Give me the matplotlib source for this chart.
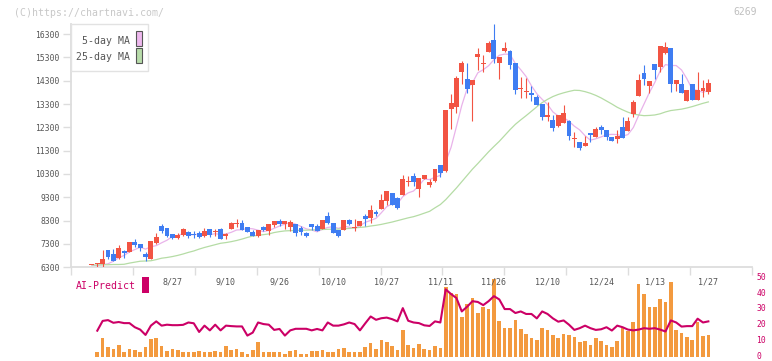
import matplotlib
matplotlib.use('Agg')
import matplotlib.pyplot as plt
import matplotlib.transforms as mtransforms
from matplotlib.patches import Rectangle

plt.rcParams['font.family'] = ['DejaVu Sans Mono']

# daily candles (open, high, low, close)
opens = [6380, 6430, 6440, 7040, 6870, 6690, 7010, 6970, 7380, 7300,
         6870, 6660, 7350, 8070, 7980, 7730, 7540, 7680, 7810, 7720,
         7770, 7640, 7960, 7830, 7960, 7650, 7950, 8160, 8200, 8010,
         7810, 7650, 8030, 7870, 8110, 8280, 8170, 8040, 8160, 7980,
         7770, 8140, 8070, 7940, 8500, 8200, 7900, 7900, 8330, 7990,
         8080, 8500, 8400, 8670, 8800, 9160, 9480, 9270, 9400, 9960,
         10210, 9660, 10100, 9810, 10000, 10700, 10440, 13100, 13160, 14680,
         14370, 14130, 15330, 15020, 15540, 16030, 15070, 15560, 15580, 15060,
         13930, 13800, 13760, 13600, 13300, 12740, 12630, 12340, 12480, 12580,
         11780, 11670, 11500, 12060, 11880, 12310, 12180, 11880, 11810, 12310,
         12150, 12880, 13660, 14630, 14080, 15010, 14900, 15470, 15700, 14170,
         14150, 13430, 14160, 13480, 13870, 13830]
highs = [6390, 6500, 7040, 7040, 7070, 7260, 7040, 7390, 7510, 7300,
         6940, 7430, 7780, 8160, 7990, 7730, 7760, 7980, 7870, 7860,
         7870, 7980, 7960, 7930, 7980, 7780, 8250, 8370, 8330, 8020,
         7890, 7900, 8070, 8150, 8290, 8370, 8290, 8310, 8170, 8070,
         7830, 8140, 8160, 8340, 8670, 8200, 7910, 8330, 8380, 8370,
         8280, 8570, 8960, 8770, 9440, 9570, 9480, 9310, 10260, 10200,
         10340, 10140, 10270, 10090, 10510, 10700, 13040, 13730, 14480, 15160,
         15040, 14340, 15700, 15390, 15990, 16740, 15310, 15960, 15610, 15060,
         14460, 14410, 14070, 13670, 13300, 13370, 12810, 12850, 13240, 12600,
         12090, 11680, 11930, 12060, 12330, 12390, 12190, 11880, 12180, 12730,
         12730, 13470, 14600, 14970, 14290, 15010, 15790, 15940, 15700, 14330,
         14570, 13900, 14160, 14670, 14330, 14390]
lows = [6380, 6330, 6330, 6650, 6570, 6650, 6710, 6960, 7180, 7000,
        6570, 6660, 7290, 7780, 7600, 7530, 7500, 7640, 7540, 7540,
        7540, 7600, 7590, 7650, 7530, 7530, 7950, 8030, 7880, 7820,
        7640, 7620, 7840, 7700, 8030, 8080, 7950, 7870, 7650, 7700,
        7610, 7910, 7860, 7930, 8160, 7770, 7610, 7890, 8130, 7870,
        8070, 8080, 8190, 8510, 8800, 8980, 8980, 8820, 9400, 9770,
        9780, 9300, 10090, 9760, 9960, 10160, 10400, 12240, 12930, 14170,
        13780, 12580, 14770, 14680, 15530, 15040, 14380, 15550, 14810, 13730,
        13540, 13570, 13430, 13260, 12630, 12560, 12150, 12330, 12470, 11770,
        11440, 11340, 11490, 11680, 11870, 12010, 11760, 11720, 11640, 11840,
        12140, 12760, 13650, 14110, 13780, 14370, 14680, 15460, 13830, 13840,
        13760, 13420, 13460, 13470, 13610, 13730]
closes = [6390, 6450, 6650, 6750, 6580, 7140, 6925, 7380, 7260, 7110,
          6740, 7430, 7600, 7860, 7650, 7540, 7670, 7960, 7650, 7700,
          7600, 7870, 7680, 7850, 7530, 7740, 8200, 8180, 7890, 7830,
          7650, 7900, 7890, 8140, 8280, 8160, 8280, 8240, 7780, 7810,
          7650, 8010, 7870, 8330, 8210, 7780, 7650, 8330, 8140, 8010,
          8280, 8370, 8760, 8600, 9180, 9570, 8980, 8830, 10080, 10010,
          9940, 10130, 10260, 9960, 10510, 10330, 13040, 13340, 14410, 15060,
          13960, 14330, 15460, 15060, 15910, 15240, 15300, 15700, 14980, 13920,
          13950, 13870, 13700, 13270, 12730, 12830, 12270, 12840, 12920, 11940,
          11800, 11430, 11610, 11980, 12230, 12200, 11870, 11730, 11930, 11850,
          12580, 13380, 14330, 14380, 14290, 14740, 15790, 15740, 14170, 14330,
          13780, 13900, 13470, 13900, 13970, 14190]

ma5 = [6360, 6380, 6410, 6450, 6560, 6710, 6810, 6960, 7060, 7160,
       7080, 7180, 7230, 7350, 7460, 7620, 7660, 7740, 7690, 7700,
       7720, 7760, 7700, 7740, 7710, 7730, 7800, 7900, 7910, 7970,
       7950, 7890, 7830, 7880, 7970, 8070, 8150, 8220, 8150, 8050,
       7950, 7900, 7820, 7930, 8010, 8040, 7970, 8060, 8020, 7980,
       8080, 8230, 8310, 8400, 8640, 8900, 9020, 9030, 9330, 9490,
       9570, 9800, 10080, 10060, 10160, 10240, 10820, 11440, 12330, 13240,
       13960, 14220, 14640, 14770, 14940, 15200, 15390, 15440, 15430, 15030,
       14770, 14480, 14080, 13740, 13500, 13280, 12960, 12790, 12720, 12560,
       12350, 12190, 11940, 11750, 11810, 11890, 11980, 12000, 11990, 11920,
       11990, 12290, 12810, 13300, 13790, 14220, 14710, 14990, 14950, 14950,
       14760, 14380, 13930, 13880, 13800, 13890]
ma25 = [6400, 6400, 6410, 6410, 6420, 6420, 6430, 6480, 6520, 6560,
        6570, 6580, 6630, 6690, 6720, 6760, 6810, 6870, 6940, 7000,
        7080, 7150, 7210, 7270, 7330, 7360, 7400, 7450, 7510, 7580,
        7640, 7670, 7700, 7730, 7790, 7830, 7860, 7870, 7880, 7890,
        7890, 7900, 7910, 7920, 7930, 7935, 7940, 7950, 7965, 7990,
        8010, 8030, 8070, 8100, 8140, 8190, 8240, 8300, 8360, 8420,
        8470, 8540, 8620, 8700, 8850, 8990, 9200, 9450, 9700, 9970,
        10240, 10510, 10750, 11000, 11250, 11480, 11700, 11950, 12200, 12430,
        12620, 12800, 12990, 13180, 13360, 13500, 13620, 13710, 13780, 13840,
        13890, 13880, 13830, 13760, 13670, 13560, 13430, 13300, 13160, 13050,
        12950, 12870, 12830, 12800, 12810, 12830, 12880, 12960, 13020, 13050,
        13080, 13130, 13190, 13260, 13330, 13390]

# lower panel
volume = [0, 3.6, 12.4, 6.7, 5.5, 8.0, 3.6, 5.5, 4.8, 3.0,
          6.7, 11.8, 12.4, 7.4, 4.2, 5.5, 4.8, 3.6, 3.6, 3.6,
          4.2, 3.6, 3.6, 4.2, 3.0, 7.4, 4.8, 5.5, 3.6, 2.3,
          4.5, 9.9, 3.0, 3.0, 3.0, 3.0, 2.3, 4.2, 4.8, 2.3,
          2.3, 4.2, 4.2, 4.8, 3.6, 3.6, 5.5, 6.1, 3.0, 3.6,
          3.0, 6.7, 9.2, 5.5, 11.1, 9.9, 7.4, 4.8, 17.4, 8.0,
          6.1, 8.6, 5.5, 4.8, 7.4, 6.1, 44.5, 40.7, 40.1, 25.6,
          33.8, 37.6, 28.0, 32.1, 30.7, 49.6, 23.1, 18.7, 18.7, 23.7,
          18.0, 14.9, 12.4, 11.1, 18.7, 17.4, 14.3, 12.4, 14.9, 14.3,
          13.0, 9.9, 10.5, 8.0, 12.4, 10.5, 8.0, 6.7, 10.5, 18.7,
          16.8, 22.5, 46.4, 40.1, 31.9, 31.9, 37.0, 35.1, 47.7, 17.4,
          15.5, 13.0, 11.1, 22.5, 13.6, 14.3]
ai_predict = [16.8, 23.0, 23.5, 21.8, 22.3, 21.6, 21.6, 19.0, 17.5,
              14.1, 20.0, 22.7, 20.0, 20.6, 20.3, 20.3, 20.5, 22.0, 21.5,
              16.0, 20.0, 17.0, 20.6, 17.0, 20.0, 19.7, 19.5, 19.5, 13.7,
              15.6, 22.0, 21.0, 20.6, 17.3, 17.9, 13.7, 17.0, 18.0, 18.0,
              18.0, 17.0, 17.9, 17.0, 22.0, 20.0, 20.0, 20.8, 22.0, 21.0,
              17.0, 21.5, 25.8, 23.7, 24.7, 25.1, 24.1, 22.7, 31.1, 23.1,
              22.0, 21.6, 20.2, 19.8, 22.7, 22.0, 43.0, 40.0, 37.5, 29.0,
              32.0, 35.5, 35.0, 33.0, 35.5, 38.7, 36.6, 30.5, 30.5, 28.0,
              29.0, 27.4, 27.4, 24.6, 29.0, 27.4, 24.6, 22.5, 23.3, 20.6,
              17.3, 18.4, 20.0, 18.4, 17.3, 17.7, 19.0, 16.9, 20.0, 19.0,
              17.5, 17.0, 17.5, 18.4, 18.0, 18.4, 17.5, 16.3, 23.3, 22.0,
              19.4, 19.7, 19.7, 24.4, 22.0, 22.7]

date_labels = ['8/27', '9/10', '9/26', '10/10', '10/27', '11/11',
               '11/26', '12/10', '12/24', '1/13', '1/27']
date_idx = [15, 25, 35, 45, 55, 65, 75, 85, 95, 105, 115]

UP = '#f25443'
DOWN = '#3f7df2'
GRID = '#dddddd'
CRIMSON = '#cc0066'

W, H = 772, 361


def fx(px):
    return px / W


def fy(py):
    return 1 - py / H


n = len(closes)
idx = list(range(n))
xlim = (-3.96, 123.2)

fig = plt.figure(figsize=(7.72, 3.61), dpi=100)
ax2 = fig.add_axes([fx(70.7), fy(357.2), (752.3 - 70.7) / W, (357.2 - 278.3) / H])
ax = fig.add_axes([fx(70.7), fy(267.3), (752.3 - 70.7) / W, (267.3 - 24) / H])
ax2.patch.set_visible(False)
ax.patch.set_visible(False)

# candles
colors = [UP if c >= o else DOWN for o, c in zip(opens, closes)]
bottoms = [min(o, c) for o, c in zip(opens, closes)]
heights = [max(abs(c - o), 45) for o, c in zip(opens, closes)]
ax.vlines(idx, lows, highs, colors=colors, linewidth=0.8, zorder=3)
ax.bar(idx, heights, bottom=bottoms, width=0.92, color=colors, linewidth=0, zorder=4)
ax.plot(idx, ma5, color='#e9b3ea', linewidth=0.9, zorder=2)
ax.plot(idx, ma25, color='#b5dca5', linewidth=0.9, zorder=2)

ax.set_xlim(*xlim)
ax.set_ylim(6300, 16730)
ax.set_yticks(range(6300, 16301, 1000))
ax.set_xticks([xlim[0] + k * (xlim[1] - xlim[0]) / 11 for k in range(12)])
ax.set_xticklabels([])
for s in ['top', 'right']:
    ax.spines[s].set_visible(False)
for s in ['left', 'bottom']:
    ax.spines[s].set_color(GRID)
    ax.spines[s].set_linewidth(1.3)
ax.tick_params(axis='both', colors=GRID, length=6, width=1.0)
ax.tick_params(axis='y', labelcolor='#555555', labelsize=5.8, pad=2)

for lab, i in zip(date_labels, date_idx):
    ax.text(i, -0.06, lab, transform=ax.get_xaxis_transform(), ha='center',
            va='center', fontsize=6, color='#555555', clip_on=False)

# legend box
fig.patches.append(Rectangle((fx(70.7), fy(71)), 77.6 / W, 46.7 / H,
                             transform=fig.transFigure, facecolor='white',
                             edgecolor='#e2e2e2', linewidth=1.0, zorder=5))
fig.patches.append(Rectangle((fx(136.3), fy(46.3)), 6 / W, 15.3 / H,
                             transform=fig.transFigure, facecolor='#eeb8ee',
                             edgecolor='#555555', linewidth=0.8, zorder=6))
fig.patches.append(Rectangle((fx(136.3), fy(63)), 6 / W, 14.7 / H,
                             transform=fig.transFigure, facecolor='#b8dcaa',
                             edgecolor='#555555', linewidth=0.8, zorder=6))
fig.text(fx(129.5), fy(40.7), '5-day MA', ha='right', va='center',
         fontsize=7.1, color='#555555', zorder=7)
fig.text(fx(129.5), fy(56.7), '25-day MA', ha='right', va='center',
         fontsize=7.1, color='#555555', zorder=7)

# lower panel
ax2.bar(idx, volume, width=0.68, color='#f39a3f', linewidth=0)
ax2.plot(idx[1:], ai_predict, color=CRIMSON, linewidth=1.5)
ax2.set_xlim(*xlim)
ax2.set_ylim(0, 50)
for s in ax2.spines.values():
    s.set_visible(False)
ax2.set_xticks([])
ax2.yaxis.tick_right()
ax2.set_yticks([0, 10, 20, 30, 40, 50])
ax2.tick_params(axis='y', length=0, pad=3, labelsize=5.8, labelcolor=CRIMSON)
# nudge the right-hand labels up a little so the "0" stays inside the image
lift = mtransforms.ScaledTranslation(0, 2 / 100, fig.dpi_scale_trans)
for lbl in ax2.get_yticklabels():
    lbl.set_transform(lbl.get_transform() + lift)

fig.text(fx(76), fy(286), 'AI-Predict', ha='left', va='center',
         fontsize=7.1, color=CRIMSON)
fig.patches.append(Rectangle((fx(142.3), fy(292.7)), 6.4 / W, 15.4 / H,
                             transform=fig.transFigure, facecolor=CRIMSON,
                             edgecolor='none'))

fig.text(fx(14), fy(12.7), '(C)https://chartnavi.com/', ha='left',
         va='center', fontsize=7.1, color='#c8c8c8')
fig.text(fx(757), fy(12), '6269', ha='right', va='center',
         fontsize=7, color='#c0c0c0')

fig.savefig('out.png', dpi=100)
